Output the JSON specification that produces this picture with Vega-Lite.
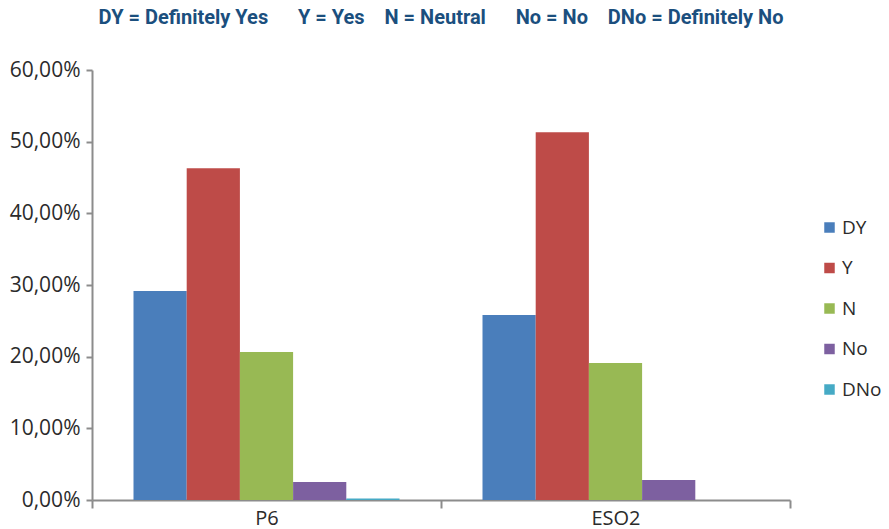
{
  "$schema": "https://vega.github.io/schema/vega-lite/v6.json",
  "autosize": "none",
  "width": 698,
  "height": 430,
  "padding": {"left": 92, "top": 70, "right": 99, "bottom": 29},
  "background": "white",
  "config": {
    "locale": {"number": {"decimal": ",", "thousands": ".", "grouping": [3], "currency": ["", " €"]}},
    "view": {"stroke": null},
    "font": "Open Sans"
  },
  "title": {
    "text": "DY = Definitely Yes\u00a0\u00a0\u00a0\u00a0\u00a0\u00a0Y = Yes\u00a0\u00a0\u00a0\u00a0N = Neutral\u00a0\u00a0\u00a0\u00a0\u00a0\u00a0No = No\u00a0\u00a0\u00a0\u00a0DNo = Definitely No",
    "font": "Roboto",
    "fontSize": 20,
    "fontWeight": "bold",
    "color": "#1b4f7e",
    "anchor": "middle",
    "offset": 31
  },
  "data": {
    "values": [
      {"group": "P6", "answer": "DY", "value": 0.2915},
      {"group": "P6", "answer": "Y", "value": 0.463},
      {"group": "P6", "answer": "N", "value": 0.2065},
      {"group": "P6", "answer": "No", "value": 0.025},
      {"group": "P6", "answer": "DNo", "value": 0.002},
      {"group": "ESO2", "answer": "DY", "value": 0.258},
      {"group": "ESO2", "answer": "Y", "value": 0.513},
      {"group": "ESO2", "answer": "N", "value": 0.191},
      {"group": "ESO2", "answer": "No", "value": 0.028},
      {"group": "ESO2", "answer": "DNo", "value": 0.0}
    ]
  },
  "mark": {"type": "bar"},
  "encoding": {
    "x": {
      "field": "group",
      "type": "nominal",
      "sort": ["P6", "ESO2"],
      "scale": {"paddingInner": 0, "paddingOuter": 0},
      "axis": {
        "title": null,
        "labelAngle": 0,
        "labelFontSize": 20,
        "labelColor": "#2b2b2b",
        "labelPadding": 0,
        "domainColor": "#8c8c8c",
        "domainWidth": 2,
        "tickColor": "#8c8c8c",
        "tickWidth": 2,
        "tickSize": 8,
        "tickBand": "extent"
      }
    },
    "xOffset": {
      "field": "answer",
      "type": "nominal",
      "sort": ["DY", "Y", "N", "No", "DNo"],
      "scale": {"paddingInner": 0, "paddingOuter": 0.78}
    },
    "y": {
      "field": "value",
      "type": "quantitative",
      "scale": {"domain": [0, 0.6]},
      "axis": {
        "title": null,
        "format": ".2%",
        "values": [0, 0.1, 0.2, 0.3, 0.4, 0.5, 0.6],
        "labelOverlap": false,
        "grid": false,
        "labelFontSize": 21,
        "labelColor": "#2b2b2b",
        "labelPadding": 6,
        "domainColor": "#8c8c8c",
        "domainWidth": 2,
        "tickColor": "#8c8c8c",
        "tickWidth": 2,
        "tickSize": 6
      }
    },
    "color": {
      "field": "answer",
      "type": "nominal",
      "sort": ["DY", "Y", "N", "No", "DNo"],
      "scale": {"domain": ["DY", "Y", "N", "No", "DNo"], "range": ["#4a7ebb", "#be4b48", "#98b954", "#7d60a0", "#46aac5"]},
      "legend": {
        "title": null,
        "orient": "none",
        "legendX": 728,
        "legendY": 148,
        "symbolType": "square",
        "symbolSize": 110,
        "symbolStrokeWidth": 0,
        "labelFontSize": 19,
        "labelColor": "#2b2b2b",
        "labelOffset": 3,
        "rowPadding": 20.5
      }
    }
  }
}
